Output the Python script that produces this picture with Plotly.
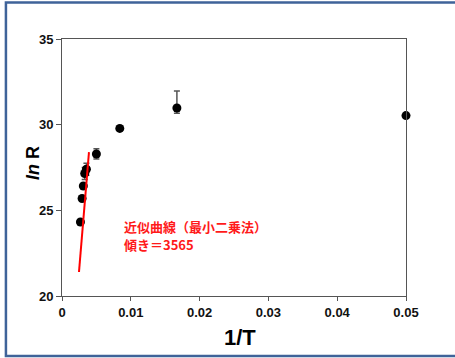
import plotly.graph_objects as go

# Data
inv_T = [0.00268, 0.00292, 0.00310, 0.00330, 0.00355, 0.00500, 0.00840, 0.01670, 0.05000]
ln_R = [24.32, 25.69, 26.42, 27.15, 27.40, 28.29, 29.78, 30.97, 30.53]
err_plus = [0.0, 0.0, 0.0, 0.35, 0.35, 0.3, 0.0, 1.0, 0.0]
err_minus = [0.0, 0.0, 0.0, 0.35, 0.35, 0.3, 0.0, 0.3, 0.0]

fit_x = [0.00247, 0.00392]
fit_y = [21.4, 28.4]

x_ticks = [0, 0.01, 0.02, 0.03, 0.04, 0.05]
x_tick_text = ["0", "0.01", "0.02", "0.03", "0.04", "0.05"]
y_ticks = [20, 25, 30, 35]

note_lines = ["近似曲線（最小二乗法）", "傾き＝3565"]

tick_font = dict(family="Liberation Sans Narrow, Arial Narrow, Liberation Sans, sans-serif",
                 size=13, color="#111111", weight="bold")

fig = go.Figure()
fig.add_trace(go.Scatter(
    x=inv_T, y=ln_R, mode="markers",
    marker=dict(size=9, color="black"),
    error_y=dict(type="data", symmetric=False, array=err_plus, arrayminus=err_minus,
                 color="#555555", thickness=1.5, width=3),
    showlegend=False, cliponaxis=False,
))
fig.add_trace(go.Scatter(
    x=fit_x, y=fit_y, mode="lines",
    line=dict(color="#ff0000", width=2), showlegend=False,
))

for line, yv in zip(note_lines, [24.03, 23.03]):
    fig.add_annotation(
        x=0.0087, y=yv, xref="x", yref="y",
        text="<b>" + line + "</b>",
        showarrow=False, xanchor="left", yanchor="middle", align="left",
        font=dict(family="Noto Sans CJK JP, sans-serif", size=13, color="#ff1a1a"),
    )

# axis titles
fig.add_annotation(x=0.517, y=-0.163, xref="paper", yref="paper",
                   text="<b>1/T</b>", showarrow=False, xanchor="center", yanchor="middle",
                   font=dict(family="Liberation Sans, sans-serif", size=22, color="black"))
fig.add_annotation(x=-0.0843, y=0.5175, xref="paper", yref="paper",
                   text="<b><i>ln</i> R</b>", showarrow=False, xanchor="center", yanchor="middle",
                   textangle=-90,
                   font=dict(family="Liberation Sans, sans-serif", size=18, color="black"))

# outer border
fig.add_shape(type="rect", xref="paper", yref="paper",
              x0=-0.163, x1=1.17, y0=-0.2335, y1=1.142,
              line=dict(color="#3f6399", width=2.5), layer="below")

fig.update_layout(
    width=455, height=358,
    margin=dict(l=62, r=49, t=39, b=62),
    paper_bgcolor="white", plot_bgcolor="white",
    xaxis=dict(range=[0, 0.05], tickvals=x_ticks, ticktext=x_tick_text,
               showgrid=False, zeroline=False, showline=True, linecolor="#555555",
               linewidth=1, mirror=True, ticks="outside", ticklen=4, tickcolor="#555555",
               tickfont=tick_font),
    yaxis=dict(range=[20, 35], tickvals=y_ticks,
               showgrid=False, zeroline=False, showline=True, linecolor="#555555",
               linewidth=1, mirror=True, ticks="outside", ticklen=5, tickcolor="#555555",
               tickfont=tick_font),
)

fig.write_html("out.html", config={"displayModeBar": False},
               post_script="document.body.style.margin='0';document.body.style.overflow='hidden';")
